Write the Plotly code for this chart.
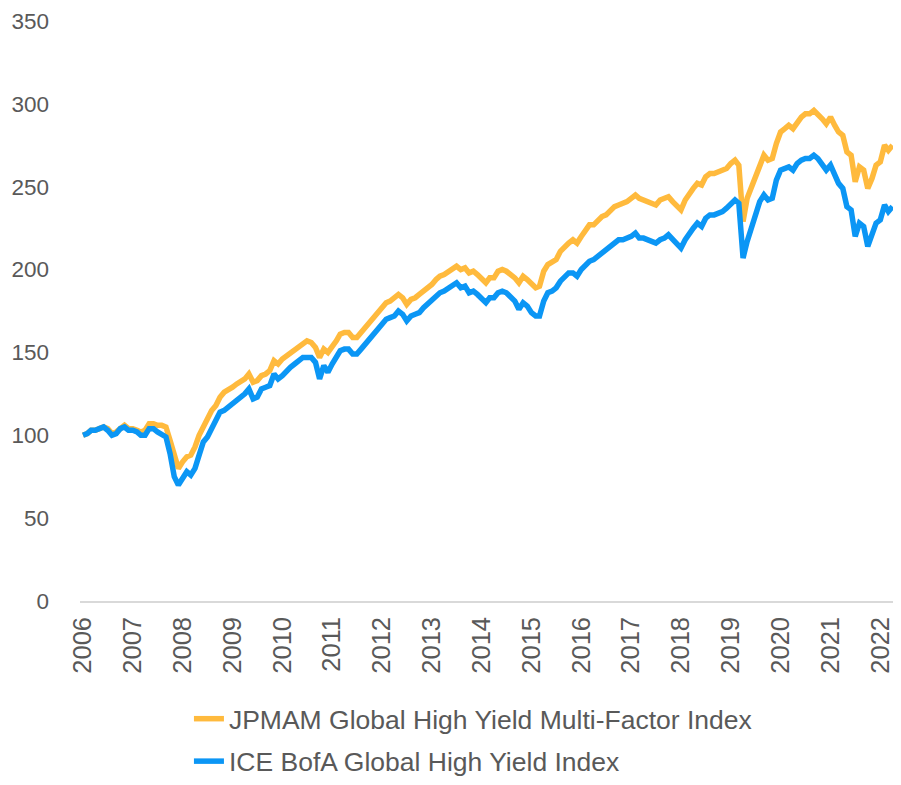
import pandas as pd
import plotly.graph_objects as go

# monthly index levels, Jan 2006 = 100
months = pd.date_range("2006-01-01", "2022-04-01", freq="MS")

jpmam = [
    100, 101, 103, 103, 104, 105, 104, 101, 102, 104, 106, 104,  # 2006
    104, 103, 102, 103, 107, 107, 106, 106, 105, 97, 88, 80,     # 2007
    84, 87, 88, 93, 100, 105, 109, 115, 118, 123, 126, 128,      # 2008
    129, 131, 132, 134, 137, 132, 133, 136, 137, 139, 145, 143,  # 2009
    146, 148, 150, 152, 154, 156, 157, 156, 153, 147, 152, 150,  # 2010
    153, 157, 161, 162, 162, 159, 159, 162, 165, 168, 170, 173,  # 2011
    177, 180, 181, 183, 185, 183, 179, 182, 183, 185, 187, 189,  # 2012
    191, 194, 196, 197, 199, 200, 202, 200, 201, 198, 199, 197,  # 2013
    194, 192, 195, 195, 199, 200, 199, 197, 195, 192, 196, 194,  # 2014
    191, 189, 190, 199, 203, 205, 206, 211, 214, 216, 218, 216,  # 2015
    220, 224, 227, 227, 230, 232, 233, 236, 238, 239, 240, 241,  # 2016
    243, 245, 243, 242, 241, 240, 239, 242, 243, 244, 241, 239,  # 2017
    236, 242, 246, 249, 252, 251, 256, 258, 258, 259, 260, 261,  # 2018
    264, 266, 263, 229, 243, 250, 257, 264, 269, 266, 267, 276,  # 2019
    283, 285, 287, 285, 289, 292, 294, 294, 296, 294, 291, 288,  # 2020
    292, 287, 283, 281, 271, 269, 253, 262, 260, 249, 255, 263,  # 2021
    265, 275, 272, 275,                                          # 2022
]

ice_bofa = [
    100, 101, 103, 103, 104, 105, 103, 100, 101, 104, 105, 103,  # 2006
    103, 102, 100, 100, 104, 104, 102, 100, 99, 89, 75, 70,      # 2007
    74, 78, 76, 80, 88, 96, 99, 104, 108, 114, 115, 117,         # 2008
    119, 121, 122, 125, 128, 122, 123, 128, 129, 130, 137, 134,  # 2009
    136, 139, 141, 143, 145, 147, 147, 147, 144, 134, 142, 138,  # 2010
    143, 147, 151, 152, 152, 149, 149, 152, 155, 158, 160, 164,  # 2011
    167, 170, 171, 172, 175, 173, 169, 172, 173, 174, 177, 179,  # 2012
    181, 184, 186, 187, 189, 190, 192, 189, 190, 186, 187, 185,  # 2013
    182, 180, 183, 183, 186, 187, 186, 184, 181, 176, 180, 178,  # 2014
    174, 172, 172, 181, 186, 187, 189, 193, 196, 198, 198, 196,  # 2015
    200, 203, 205, 206, 208, 210, 212, 214, 216, 218, 218, 219,  # 2016
    220, 222, 219, 219, 218, 217, 216, 218, 219, 221, 218, 216,  # 2017
    213, 218, 222, 225, 228, 226, 231, 233, 233, 234, 235, 237,  # 2018
    240, 242, 240, 207, 217, 226, 234, 241, 245, 242, 243, 254,  # 2019
    260, 261, 262, 260, 264, 266, 267, 267, 269, 267, 264, 260,  # 2020
    263, 257, 252, 249, 238, 236, 220, 228, 226, 214, 222, 228,  # 2021
    230, 239, 235, 238,                                          # 2022
]

years = list(range(2006, 2023))
y_ticks = [0, 50, 100, 150, 200, 250, 300, 350]

grey = "#595959"
font = "Liberation Sans, Arial, sans-serif"

fig = go.Figure()
fig.add_trace(go.Scatter(x=months, y=jpmam, mode="lines",
                         name="JPMAM Global High Yield Multi-Factor Index",
                         legendgroup="a",
                         line=dict(color="#FFBA3D", width=5.5)))
fig.add_trace(go.Scatter(x=months, y=ice_bofa, mode="lines",
                         name="ICE BofA Global High Yield Index",
                         legendgroup="b",
                         line=dict(color="#0B96F5", width=5.5)))

# the page body has an 8px margin; keep the figure small enough to avoid scrollbars
fig.update_layout(
    width=885, height=769,
    margin=dict(l=72, r=0, t=13, b=176, autoexpand=False),
    paper_bgcolor="white", plot_bgcolor="white",
    font=dict(family=font, size=22.5, color=grey),
    showlegend=True,
    xaxis=dict(
        range=["2005-12-10", "2022-04-04"],
        tickvals=[f"{y}-01-01" for y in years],
        ticktext=[str(y) for y in years],
        tickangle=-90, showgrid=False, zeroline=False,
        showline=True, linecolor="#D9D9D9", linewidth=1.5,
        ticks="", ticklabelstandoff=4, automargin=False,
        ticklabeloverflow="allow",
        tickfont=dict(size=25.5),
    ),
    yaxis=dict(
        range=[0, 350], tickvals=y_ticks, showgrid=False, zeroline=False,
        ticks="", ticklabelstandoff=30, automargin=False,
    ),
    legend=dict(x=0.134, y=-0.162, xanchor="left", yanchor="top",
                orientation="v", tracegroupgap=5,
                bgcolor="rgba(0,0,0,0)", font=dict(size=26.5, color=grey)),
)

fig.write_html("out.html")
